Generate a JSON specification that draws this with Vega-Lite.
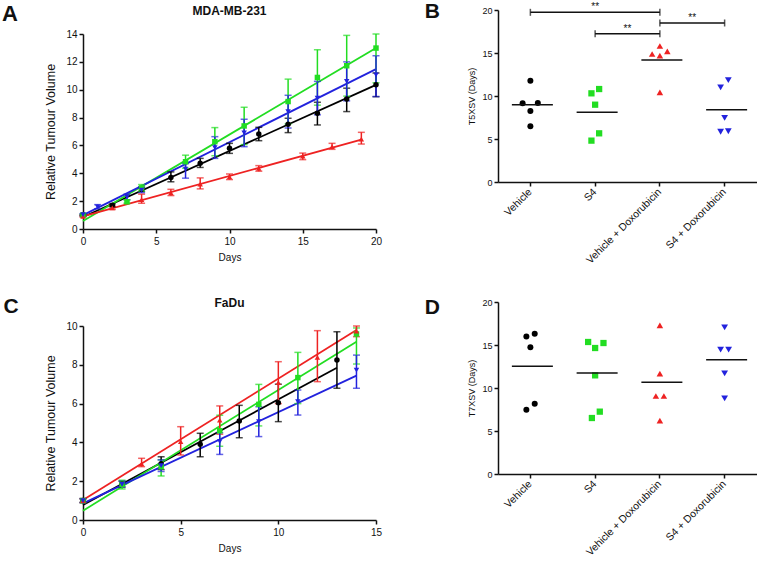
{
  "$schema": "https://vega.github.io/schema/vega-lite/v6.json",
  "background": "white",
  "padding": {"left": 2, "top": 1, "right": 0, "bottom": 0},
  "config": {
    "font": "Liberation Sans",
    "view": {"stroke": null},
    "axis": {"grid": false, "labelFont": "Liberation Sans", "titleFont": "Liberation Sans", "domainColor": "#111111", "tickColor": "#111111", "labelColor": "#111111", "titleColor": "#111111", "domainWidth": 1.5, "tickWidth": 1.5, "tickSize": 4, "titleFontWeight": "normal", "labelFlush": false},
    "title": {"font": "Liberation Sans", "color": "#111111"}
  },
  "datasets": {
    "mdaPts": [
      {"g": "Vehicle", "day": 0, "v": 1.0, "lo": 0.95, "hi": 1.05},
      {"g": "Vehicle", "day": 2, "v": 1.7, "lo": 1.6, "hi": 1.8},
      {"g": "Vehicle", "day": 4, "v": 2.85, "lo": 2.7, "hi": 3.0},
      {"g": "Vehicle", "day": 6, "v": 3.7, "lo": 3.39, "hi": 4.1},
      {"g": "Vehicle", "day": 8, "v": 4.72, "lo": 4.42, "hi": 5.07},
      {"g": "Vehicle", "day": 10, "v": 5.79, "lo": 5.43, "hi": 6.15},
      {"g": "Vehicle", "day": 12, "v": 6.82, "lo": 6.34, "hi": 7.3},
      {"g": "Vehicle", "day": 14, "v": 7.52, "lo": 6.92, "hi": 7.95},
      {"g": "Vehicle", "day": 16, "v": 8.31, "lo": 7.47, "hi": 9.1},
      {"g": "Vehicle", "day": 18, "v": 9.34, "lo": 8.43, "hi": 10.11},
      {"g": "Vehicle", "day": 20, "v": 10.35, "lo": 9.5, "hi": 11.2},
      {"g": "S4", "day": 0, "v": 1.0, "lo": 0.95, "hi": 1.05},
      {"g": "S4", "day": 3, "v": 1.95, "lo": 1.85, "hi": 2.1},
      {"g": "S4", "day": 4, "v": 2.95, "lo": 2.7, "hi": 3.19},
      {"g": "S4", "day": 7, "v": 4.83, "lo": 4.36, "hi": 5.3},
      {"g": "S4", "day": 9, "v": 6.27, "lo": 5.26, "hi": 7.28},
      {"g": "S4", "day": 11, "v": 7.4, "lo": 6.06, "hi": 8.74},
      {"g": "S4", "day": 14, "v": 9.15, "lo": 7.54, "hi": 10.76},
      {"g": "S4", "day": 16, "v": 10.88, "lo": 8.89, "hi": 12.87},
      {"g": "S4", "day": 18, "v": 11.72, "lo": 9.54, "hi": 13.9},
      {"g": "S4", "day": 20, "v": 12.99, "lo": 10.5, "hi": 14.0},
      {"g": "Vehicle + Doxorubicin", "day": 0, "v": 0.91, "lo": 0.85, "hi": 0.97},
      {"g": "Vehicle + Doxorubicin", "day": 2, "v": 1.51, "lo": 1.4, "hi": 1.65},
      {"g": "Vehicle + Doxorubicin", "day": 4, "v": 2.11, "lo": 1.85, "hi": 2.5},
      {"g": "Vehicle + Doxorubicin", "day": 6, "v": 2.6, "lo": 2.4, "hi": 2.85},
      {"g": "Vehicle + Doxorubicin", "day": 8, "v": 3.22, "lo": 2.88, "hi": 3.67},
      {"g": "Vehicle + Doxorubicin", "day": 10, "v": 3.75, "lo": 3.55, "hi": 3.95},
      {"g": "Vehicle + Doxorubicin", "day": 12, "v": 4.35, "lo": 4.15, "hi": 4.55},
      {"g": "Vehicle + Doxorubicin", "day": 15, "v": 5.24, "lo": 4.98, "hi": 5.45},
      {"g": "Vehicle + Doxorubicin", "day": 17, "v": 5.91, "lo": 5.72, "hi": 6.15},
      {"g": "Vehicle + Doxorubicin", "day": 19, "v": 6.46, "lo": 6.1, "hi": 6.94},
      {"g": "S4 + Doxorubicin", "day": 0, "v": 1.03, "lo": 0.95, "hi": 1.1},
      {"g": "S4 + Doxorubicin", "day": 1, "v": 1.58, "lo": 1.45, "hi": 1.75},
      {"g": "S4 + Doxorubicin", "day": 3, "v": 2.3, "lo": 2.1, "hi": 2.5},
      {"g": "S4 + Doxorubicin", "day": 4, "v": 2.8, "lo": 2.6, "hi": 3.0},
      {"g": "S4 + Doxorubicin", "day": 7, "v": 4.3, "lo": 3.65, "hi": 4.7},
      {"g": "S4 + Doxorubicin", "day": 9, "v": 5.85, "lo": 5.07, "hi": 6.63},
      {"g": "S4 + Doxorubicin", "day": 11, "v": 6.9, "lo": 5.91, "hi": 7.88},
      {"g": "S4 + Doxorubicin", "day": 14, "v": 8.43, "lo": 7.25, "hi": 9.6},
      {"g": "S4 + Doxorubicin", "day": 16, "v": 9.39, "lo": 8.2, "hi": 10.6},
      {"g": "S4 + Doxorubicin", "day": 18, "v": 10.6, "lo": 9.2, "hi": 12.0},
      {"g": "S4 + Doxorubicin", "day": 20, "v": 11.07, "lo": 9.51, "hi": 12.44}
    ],
    "mdaFit": [
      {"g": "Vehicle", "day": 0, "fit": 0.86}, {"g": "Vehicle", "day": 20, "fit": 10.35},
      {"g": "S4", "day": 0, "fit": 0.58}, {"g": "S4", "day": 20, "fit": 12.99},
      {"g": "Vehicle + Doxorubicin", "day": 0, "fit": 0.9}, {"g": "Vehicle + Doxorubicin", "day": 19, "fit": 6.42},
      {"g": "S4 + Doxorubicin", "day": 0, "fit": 1.0}, {"g": "S4 + Doxorubicin", "day": 20, "fit": 11.48}
    ],
    "faduPts": [
      {"g": "Vehicle", "day": 0, "v": 1.0, "lo": 0.9, "hi": 1.1},
      {"g": "Vehicle", "day": 2, "v": 1.85, "lo": 1.7, "hi": 2.0},
      {"g": "Vehicle", "day": 4, "v": 2.9, "lo": 2.6, "hi": 3.26},
      {"g": "Vehicle", "day": 6, "v": 3.9, "lo": 3.26, "hi": 4.47},
      {"g": "Vehicle", "day": 8, "v": 5.1, "lo": 4.24, "hi": 5.91},
      {"g": "Vehicle", "day": 10, "v": 6.05, "lo": 5.07, "hi": 7.0},
      {"g": "Vehicle", "day": 13, "v": 8.25, "lo": 6.79, "hi": 9.7},
      {"g": "S4", "day": 0, "v": 1.0, "lo": 0.9, "hi": 1.1},
      {"g": "S4", "day": 2, "v": 1.84, "lo": 1.6, "hi": 2.05},
      {"g": "S4", "day": 4, "v": 2.75, "lo": 2.27, "hi": 3.1},
      {"g": "S4", "day": 7, "v": 4.6, "lo": 3.8, "hi": 5.4},
      {"g": "S4", "day": 9, "v": 5.96, "lo": 4.85, "hi": 6.99},
      {"g": "S4", "day": 11, "v": 7.34, "lo": 6.0, "hi": 8.64},
      {"g": "S4", "day": 14, "v": 9.59, "lo": 8.04, "hi": 9.9},
      {"g": "Vehicle + Doxorubicin", "day": 0, "v": 1.0, "lo": 0.9, "hi": 1.1},
      {"g": "Vehicle + Doxorubicin", "day": 3, "v": 2.89, "lo": 2.75, "hi": 3.18},
      {"g": "Vehicle + Doxorubicin", "day": 5, "v": 4.04, "lo": 3.35, "hi": 4.81},
      {"g": "Vehicle + Doxorubicin", "day": 7, "v": 5.15, "lo": 4.42, "hi": 5.88},
      {"g": "Vehicle + Doxorubicin", "day": 10, "v": 7.08, "lo": 6.0, "hi": 8.16},
      {"g": "Vehicle + Doxorubicin", "day": 12, "v": 8.38, "lo": 7.13, "hi": 9.76},
      {"g": "Vehicle + Doxorubicin", "day": 14, "v": 9.74, "lo": 9.45, "hi": 10.0},
      {"g": "S4 + Doxorubicin", "day": 0, "v": 1.0, "lo": 0.9, "hi": 1.1},
      {"g": "S4 + Doxorubicin", "day": 2, "v": 1.84, "lo": 1.7, "hi": 2.0},
      {"g": "S4 + Doxorubicin", "day": 4, "v": 2.8, "lo": 2.5, "hi": 3.1},
      {"g": "S4 + Doxorubicin", "day": 7, "v": 4.04, "lo": 3.38, "hi": 4.5},
      {"g": "S4 + Doxorubicin", "day": 9, "v": 5.07, "lo": 4.3, "hi": 5.84},
      {"g": "S4 + Doxorubicin", "day": 11, "v": 6.1, "lo": 5.41, "hi": 6.7},
      {"g": "S4 + Doxorubicin", "day": 14, "v": 7.73, "lo": 6.79, "hi": 8.5}
    ],
    "faduFit": [
      {"g": "Vehicle", "day": 0, "fit": 0.77}, {"g": "Vehicle", "day": 13, "fit": 7.85},
      {"g": "S4", "day": 0, "fit": 0.48}, {"g": "S4", "day": 14, "fit": 9.19},
      {"g": "Vehicle + Doxorubicin", "day": 0, "fit": 1.03}, {"g": "Vehicle + Doxorubicin", "day": 14, "fit": 9.79},
      {"g": "S4 + Doxorubicin", "day": 0, "fit": 0.86}, {"g": "S4 + Doxorubicin", "day": 14, "fit": 7.44}
    ],
    "t5": [
      {"g": "Vehicle", "jit": -0.12, "d": 9.15}, {"g": "Vehicle", "jit": 0, "d": 11.78}, {"g": "Vehicle", "jit": 0.115, "d": 9.19}, {"g": "Vehicle", "jit": 0, "d": 8.26}, {"g": "Vehicle", "jit": 0, "d": 6.47},
      {"g": "S4", "jit": -0.057, "d": 10.31}, {"g": "S4", "jit": 0.062, "d": 10.81}, {"g": "S4", "jit": 0, "d": 8.99}, {"g": "S4", "jit": 0.062, "d": 5.66}, {"g": "S4", "jit": -0.057, "d": 4.81},
      {"g": "Vehicle + Doxorubicin", "jit": 0, "d": 15.81}, {"g": "Vehicle + Doxorubicin", "jit": -0.12, "d": 14.88}, {"g": "Vehicle + Doxorubicin", "jit": 0.115, "d": 15.19}, {"g": "Vehicle + Doxorubicin", "jit": 0, "d": 14.69}, {"g": "Vehicle + Doxorubicin", "jit": 0, "d": 10.43},
      {"g": "S4 + Doxorubicin", "jit": -0.062, "d": 11.0}, {"g": "S4 + Doxorubicin", "jit": 0.057, "d": 11.85}, {"g": "S4 + Doxorubicin", "jit": 0, "d": 7.45}, {"g": "S4 + Doxorubicin", "jit": -0.062, "d": 5.85}, {"g": "S4 + Doxorubicin", "jit": 0.057, "d": 5.9}
    ],
    "t7": [
      {"g": "Vehicle", "jit": -0.062, "d": 16.0}, {"g": "Vehicle", "jit": 0.067, "d": 16.3}, {"g": "Vehicle", "jit": 0, "d": 14.73}, {"g": "Vehicle", "jit": 0.067, "d": 8.18}, {"g": "Vehicle", "jit": -0.062, "d": 7.48},
      {"g": "S4", "jit": -0.108, "d": 15.35}, {"g": "S4", "jit": 0, "d": 14.65}, {"g": "S4", "jit": 0.129, "d": 15.23}, {"g": "S4", "jit": 0, "d": 11.47}, {"g": "S4", "jit": -0.05, "d": 6.51}, {"g": "S4", "jit": 0.072, "d": 7.25},
      {"g": "Vehicle + Doxorubicin", "jit": 0, "d": 17.29}, {"g": "Vehicle + Doxorubicin", "jit": 0, "d": 11.67}, {"g": "Vehicle + Doxorubicin", "jit": -0.062, "d": 9.07}, {"g": "Vehicle + Doxorubicin", "jit": 0.062, "d": 9.07}, {"g": "Vehicle + Doxorubicin", "jit": 0, "d": 6.2},
      {"g": "S4 + Doxorubicin", "jit": 0, "d": 17.05}, {"g": "S4 + Doxorubicin", "jit": -0.062, "d": 14.46}, {"g": "S4 + Doxorubicin", "jit": 0.062, "d": 14.46}, {"g": "S4 + Doxorubicin", "jit": 0, "d": 11.7}, {"g": "S4 + Doxorubicin", "jit": 0, "d": 8.8}
    ],
    "sigB": [
      {"from": "Vehicle", "to": "Vehicle + Doxorubicin", "y": 19.73, "label": "**", "half": 1.0},
      {"from": "S4", "to": "Vehicle + Doxorubicin", "y": 17.25, "label": "**", "half": 0.5},
      {"from": "Vehicle + Doxorubicin", "to": "S4 + Doxorubicin", "y": 18.49, "label": "**", "half": 0.5}
    ]
  },
  "spacing": 30,
  "vconcat": [
    {
      "spacing": 42,
      "hconcat": [
        {
          "title": {"text": "A", "orient": "left", "angle": 0, "anchor": "end", "align": "right", "baseline": "top", "fontSize": 22, "fontWeight": "bold", "offset": 11, "dy": -1},
          "spacing": 12,
          "vconcat": [
            {
              "width": 293,
              "height": 2,
              "data": {"values": [{"t": "MDA-MB-231"}]},
              "mark": {"type": "text", "fontSize": 12, "fontWeight": "bold", "baseline": "middle", "color": "#111111"},
              "encoding": {"text": {"field": "t"}}
            },
            {
              "width": 293,
              "height": 195,
              "layer": [
                {
                  "data": {"name": "mdaFit"},
                  "mark": {"type": "line", "strokeWidth": 1.8},
                  "encoding": {
                    "x": {"field": "day", "type": "quantitative", "scale": {"domain": [0, 20], "nice": false}, "axis": {"values": [0, 5, 10, 15, 20], "title": "Days", "labelFontSize": 10, "titleFontSize": 10, "titlePadding": 6, "labelPadding": 3}},
                    "y": {"field": "fit", "type": "quantitative", "scale": {"domain": [0, 14], "nice": false}, "axis": {"values": [0, 2, 4, 6, 8, 10, 12, 14], "title": "Relative Tumour Volume", "labelFontSize": 10, "titleFontSize": 12.5, "titlePadding": 8, "labelPadding": 2}},
                    "color": {"field": "g", "type": "nominal", "scale": {"domain": ["Vehicle", "S4", "Vehicle + Doxorubicin", "S4 + Doxorubicin"], "range": ["#000000", "#22dd22", "#ee2222", "#2222dd"]}, "legend": null}
                  }
                },
                {
                  "data": {"name": "mdaPts"},
                  "mark": {"type": "errorbar", "ticks": {"size": 7, "thickness": 1.5}, "rule": {"strokeWidth": 1.5}},
                  "encoding": {
                    "x": {"field": "day", "type": "quantitative", "scale": {"domain": [0, 20], "nice": false}, "axis": {"values": [0, 5, 10, 15, 20], "title": "Days", "labelFontSize": 10, "titleFontSize": 10, "titlePadding": 6, "labelPadding": 3}},
                    "y": {"field": "lo", "type": "quantitative", "scale": {"domain": [0, 14], "nice": false}, "axis": {"values": [0, 2, 4, 6, 8, 10, 12, 14], "title": "Relative Tumour Volume", "labelFontSize": 10, "titleFontSize": 12.5, "titlePadding": 8, "labelPadding": 2}},
                    "y2": {"field": "hi"},
                    "color": {"field": "g", "type": "nominal", "legend": null}
                  }
                },
                {
                  "data": {"name": "mdaPts"},
                  "mark": {"type": "point", "filled": true, "opacity": 1, "size": 30},
                  "encoding": {
                    "x": {"field": "day", "type": "quantitative", "scale": {"domain": [0, 20], "nice": false}, "axis": {"values": [0, 5, 10, 15, 20], "title": "Days", "labelFontSize": 10, "titleFontSize": 10, "titlePadding": 6, "labelPadding": 3}},
                    "y": {"field": "v", "type": "quantitative", "scale": {"domain": [0, 14], "nice": false}, "axis": {"values": [0, 2, 4, 6, 8, 10, 12, 14], "title": "Relative Tumour Volume", "labelFontSize": 10, "titleFontSize": 12.5, "titlePadding": 8, "labelPadding": 2}},
                    "color": {"field": "g", "type": "nominal", "legend": null},
                    "shape": {"field": "g", "type": "nominal", "scale": {"domain": ["Vehicle", "S4", "Vehicle + Doxorubicin", "S4 + Doxorubicin"], "range": ["circle", "square", "triangle-up", "triangle-down"]}, "legend": null}
                  }
                }
              ]
            }
          ]
        },
        {
          "title": {"text": "B", "orient": "left", "angle": 0, "anchor": "end", "align": "right", "baseline": "top", "fontSize": 21, "fontWeight": "bold", "offset": 13, "dy": -1},
          "width": 259,
          "height": 172,
          "layer": [
            {
              "data": {"name": "t5"},
              "mark": {"type": "point", "filled": true, "opacity": 1},
              "encoding": {
                "x": {"field": "g", "type": "nominal", "scale": {"type": "band", "domain": ["Vehicle", "S4", "Vehicle + Doxorubicin", "S4 + Doxorubicin"], "paddingInner": 0, "paddingOuter": 0}, "axis": {"title": null, "labelAngle": -45, "labelAlign": "right", "labelBaseline": "middle", "labelFontSize": 10.5, "labelPadding": 4}},
                "xOffset": {"field": "jit", "type": "quantitative", "scale": {"domain": [-0.5, 0.5]}},
                "y": {"field": "d", "type": "quantitative", "scale": {"domain": [0, 20], "nice": false}, "axis": {"values": [0, 5, 10, 15, 20], "title": "T5XSV (Days)", "titleFontSize": 9, "labelFontSize": 9, "titlePadding": 5}},
                "color": {"field": "g", "type": "nominal", "scale": {"domain": ["Vehicle", "S4", "Vehicle + Doxorubicin", "S4 + Doxorubicin"], "range": ["#000000", "#22dd22", "#ee2222", "#2222dd"]}, "legend": null},
                "shape": {"field": "g", "type": "nominal", "scale": {"domain": ["Vehicle", "S4", "Vehicle + Doxorubicin", "S4 + Doxorubicin"], "range": ["circle", "square", "triangle-up", "triangle-down"]}, "legend": null},
                "size": {"field": "g", "type": "nominal", "scale": {"domain": ["Vehicle", "S4", "Vehicle + Doxorubicin", "S4 + Doxorubicin"], "range": [36, 46, 26, 26]}, "legend": null}
              }
            },
            {
              "data": {"name": "t5"},
              "mark": {"type": "tick", "size": 41, "thickness": 1.5, "color": "#111111", "xOffset": 2},
              "encoding": {
                "x": {"field": "g", "type": "nominal", "scale": {"type": "band", "domain": ["Vehicle", "S4", "Vehicle + Doxorubicin", "S4 + Doxorubicin"], "paddingInner": 0, "paddingOuter": 0}, "axis": {"title": null, "labelAngle": -45, "labelAlign": "right", "labelBaseline": "middle", "labelFontSize": 10.5, "labelPadding": 4}},
                "y": {"aggregate": "mean", "field": "d", "type": "quantitative", "scale": {"domain": [0, 20], "nice": false}, "axis": {"values": [0, 5, 10, 15, 20], "title": "T5XSV (Days)", "titleFontSize": 9, "labelFontSize": 9, "titlePadding": 5}}
              }
            },
            {
              "data": {"name": "sigB"},
              "mark": {"type": "rule", "strokeWidth": 1.5, "color": "#111111"},
              "encoding": {
                "x": {"field": "from", "type": "nominal", "scale": {"type": "band", "domain": ["Vehicle", "S4", "Vehicle + Doxorubicin", "S4 + Doxorubicin"], "paddingInner": 0, "paddingOuter": 0}, "axis": {"title": null, "labelAngle": -45, "labelAlign": "right", "labelBaseline": "middle", "labelFontSize": 10.5, "labelPadding": 4}},
                "x2": {"field": "to"},
                "y": {"field": "y", "type": "quantitative", "scale": {"domain": [0, 20], "nice": false}, "axis": {"values": [0, 5, 10, 15, 20], "title": "T5XSV (Days)", "titleFontSize": 9, "labelFontSize": 9, "titlePadding": 5}}
              }
            },
            {
              "data": {"name": "sigB"},
              "mark": {"type": "tick", "orient": "vertical", "size": 7, "thickness": 1.5, "color": "#111111"},
              "encoding": {
                "x": {"field": "from", "type": "nominal", "scale": {"type": "band", "domain": ["Vehicle", "S4", "Vehicle + Doxorubicin", "S4 + Doxorubicin"], "paddingInner": 0, "paddingOuter": 0}, "axis": {"title": null, "labelAngle": -45, "labelAlign": "right", "labelBaseline": "middle", "labelFontSize": 10.5, "labelPadding": 4}},
                "y": {"field": "y", "type": "quantitative", "scale": {"domain": [0, 20], "nice": false}, "axis": {"values": [0, 5, 10, 15, 20], "title": "T5XSV (Days)", "titleFontSize": 9, "labelFontSize": 9, "titlePadding": 5}}
              }
            },
            {
              "data": {"name": "sigB"},
              "mark": {"type": "tick", "orient": "vertical", "size": 7, "thickness": 1.5, "color": "#111111"},
              "encoding": {
                "x": {"field": "to", "type": "nominal", "scale": {"type": "band", "domain": ["Vehicle", "S4", "Vehicle + Doxorubicin", "S4 + Doxorubicin"], "paddingInner": 0, "paddingOuter": 0}, "axis": {"title": null, "labelAngle": -45, "labelAlign": "right", "labelBaseline": "middle", "labelFontSize": 10.5, "labelPadding": 4}},
                "y": {"field": "y", "type": "quantitative", "scale": {"domain": [0, 20], "nice": false}, "axis": {"values": [0, 5, 10, 15, 20], "title": "T5XSV (Days)", "titleFontSize": 9, "labelFontSize": 9, "titlePadding": 5}}
              }
            },
            {
              "data": {"name": "sigB"},
              "mark": {"type": "text", "fontSize": 10, "baseline": "middle", "dy": -5, "color": "#111111"},
              "encoding": {
                "x": {"field": "from", "type": "nominal", "scale": {"type": "band", "domain": ["Vehicle", "S4", "Vehicle + Doxorubicin", "S4 + Doxorubicin"], "paddingInner": 0, "paddingOuter": 0}, "axis": {"title": null, "labelAngle": -45, "labelAlign": "right", "labelBaseline": "middle", "labelFontSize": 10.5, "labelPadding": 4}},
                "xOffset": {"field": "half", "type": "quantitative", "scale": {"domain": [-0.5, 0.5]}},
                "y": {"field": "y", "type": "quantitative", "scale": {"domain": [0, 20], "nice": false}, "axis": {"values": [0, 5, 10, 15, 20], "title": "T5XSV (Days)", "titleFontSize": 9, "labelFontSize": 9, "titlePadding": 5}},
                "text": {"field": "label"}
              }
            }
          ]
        }
      ]
    },
    {
      "spacing": 42,
      "hconcat": [
        {
          "title": {"text": "C", "orient": "left", "angle": 0, "anchor": "end", "align": "right", "baseline": "top", "fontSize": 21, "fontWeight": "bold", "offset": 11, "dy": -1},
          "spacing": 12,
          "vconcat": [
            {
              "width": 293,
              "height": 2,
              "data": {"values": [{"t": "FaDu"}]},
              "mark": {"type": "text", "fontSize": 12, "fontWeight": "bold", "baseline": "middle", "color": "#111111"},
              "encoding": {"text": {"field": "t"}}
            },
            {
              "width": 293,
              "height": 194,
              "layer": [
                {
                  "data": {"name": "faduFit"},
                  "mark": {"type": "line", "strokeWidth": 1.8},
                  "encoding": {
                    "x": {"field": "day", "type": "quantitative", "scale": {"domain": [0, 15], "nice": false}, "axis": {"values": [0, 5, 10, 15], "title": "Days", "labelFontSize": 10, "titleFontSize": 10, "titlePadding": 6, "labelPadding": 3}},
                    "y": {"field": "fit", "type": "quantitative", "scale": {"domain": [0, 10], "nice": false}, "axis": {"values": [0, 2, 4, 6, 8, 10], "title": "Relative Tumour Volume", "labelFontSize": 10, "titleFontSize": 12.5, "titlePadding": 8, "labelPadding": 2}},
                    "color": {"field": "g", "type": "nominal", "scale": {"domain": ["Vehicle", "S4", "Vehicle + Doxorubicin", "S4 + Doxorubicin"], "range": ["#000000", "#22dd22", "#ee2222", "#2222dd"]}, "legend": null}
                  }
                },
                {
                  "data": {"name": "faduPts"},
                  "mark": {"type": "errorbar", "ticks": {"size": 7, "thickness": 1.5}, "rule": {"strokeWidth": 1.5}},
                  "encoding": {
                    "x": {"field": "day", "type": "quantitative", "scale": {"domain": [0, 15], "nice": false}, "axis": {"values": [0, 5, 10, 15], "title": "Days", "labelFontSize": 10, "titleFontSize": 10, "titlePadding": 6, "labelPadding": 3}},
                    "y": {"field": "lo", "type": "quantitative", "scale": {"domain": [0, 10], "nice": false}, "axis": {"values": [0, 2, 4, 6, 8, 10], "title": "Relative Tumour Volume", "labelFontSize": 10, "titleFontSize": 12.5, "titlePadding": 8, "labelPadding": 2}},
                    "y2": {"field": "hi"},
                    "color": {"field": "g", "type": "nominal", "legend": null}
                  }
                },
                {
                  "data": {"name": "faduPts"},
                  "mark": {"type": "point", "filled": true, "opacity": 1, "size": 30},
                  "encoding": {
                    "x": {"field": "day", "type": "quantitative", "scale": {"domain": [0, 15], "nice": false}, "axis": {"values": [0, 5, 10, 15], "title": "Days", "labelFontSize": 10, "titleFontSize": 10, "titlePadding": 6, "labelPadding": 3}},
                    "y": {"field": "v", "type": "quantitative", "scale": {"domain": [0, 10], "nice": false}, "axis": {"values": [0, 2, 4, 6, 8, 10], "title": "Relative Tumour Volume", "labelFontSize": 10, "titleFontSize": 12.5, "titlePadding": 8, "labelPadding": 2}},
                    "color": {"field": "g", "type": "nominal", "legend": null},
                    "shape": {"field": "g", "type": "nominal", "scale": {"domain": ["Vehicle", "S4", "Vehicle + Doxorubicin", "S4 + Doxorubicin"], "range": ["circle", "square", "triangle-up", "triangle-down"]}, "legend": null}
                  }
                }
              ]
            }
          ]
        },
        {
          "title": {"text": "D", "orient": "left", "angle": 0, "anchor": "end", "align": "right", "baseline": "top", "fontSize": 21, "fontWeight": "bold", "offset": 13, "dy": -1},
          "width": 259,
          "height": 172,
          "layer": [
            {
              "data": {"name": "t7"},
              "mark": {"type": "point", "filled": true, "opacity": 1},
              "encoding": {
                "x": {"field": "g", "type": "nominal", "scale": {"type": "band", "domain": ["Vehicle", "S4", "Vehicle + Doxorubicin", "S4 + Doxorubicin"], "paddingInner": 0, "paddingOuter": 0}, "axis": {"title": null, "labelAngle": -45, "labelAlign": "right", "labelBaseline": "middle", "labelFontSize": 10.5, "labelPadding": 4}},
                "xOffset": {"field": "jit", "type": "quantitative", "scale": {"domain": [-0.5, 0.5]}},
                "y": {"field": "d", "type": "quantitative", "scale": {"domain": [0, 20], "nice": false}, "axis": {"values": [0, 5, 10, 15, 20], "title": "T7XSV (Days)", "titleFontSize": 9, "labelFontSize": 9, "titlePadding": 5}},
                "color": {"field": "g", "type": "nominal", "scale": {"domain": ["Vehicle", "S4", "Vehicle + Doxorubicin", "S4 + Doxorubicin"], "range": ["#000000", "#22dd22", "#ee2222", "#2222dd"]}, "legend": null},
                "shape": {"field": "g", "type": "nominal", "scale": {"domain": ["Vehicle", "S4", "Vehicle + Doxorubicin", "S4 + Doxorubicin"], "range": ["circle", "square", "triangle-up", "triangle-down"]}, "legend": null},
                "size": {"field": "g", "type": "nominal", "scale": {"domain": ["Vehicle", "S4", "Vehicle + Doxorubicin", "S4 + Doxorubicin"], "range": [36, 46, 26, 26]}, "legend": null}
              }
            },
            {
              "data": {"name": "t7"},
              "mark": {"type": "tick", "size": 41, "thickness": 1.5, "color": "#111111", "xOffset": 2},
              "encoding": {
                "x": {"field": "g", "type": "nominal", "scale": {"type": "band", "domain": ["Vehicle", "S4", "Vehicle + Doxorubicin", "S4 + Doxorubicin"], "paddingInner": 0, "paddingOuter": 0}, "axis": {"title": null, "labelAngle": -45, "labelAlign": "right", "labelBaseline": "middle", "labelFontSize": 10.5, "labelPadding": 4}},
                "y": {"aggregate": "mean", "field": "d", "type": "quantitative", "scale": {"domain": [0, 20], "nice": false}, "axis": {"values": [0, 5, 10, 15, 20], "title": "T7XSV (Days)", "titleFontSize": 9, "labelFontSize": 9, "titlePadding": 5}}
              }
            }
          ]
        }
      ]
    }
  ]
}
